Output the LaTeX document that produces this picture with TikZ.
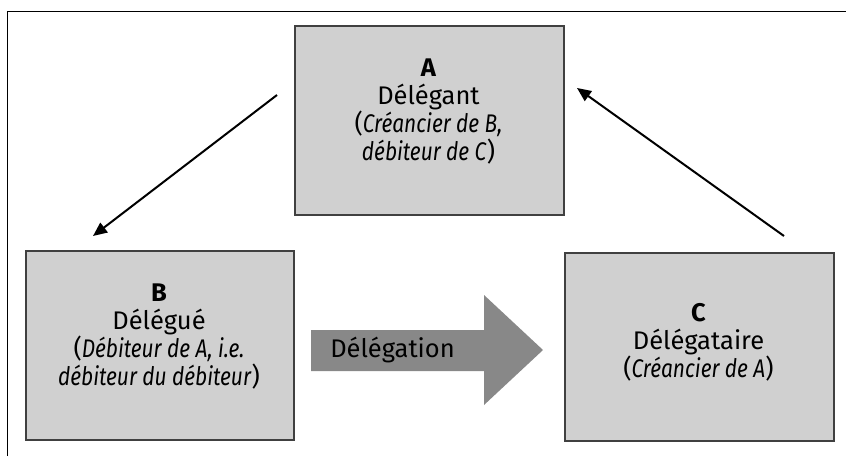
\documentclass[tikz,border=0pt]{standalone}
\usepackage{fontspec}
\setmainfont{Fira Sans}[ItalicFeatures={FakeStretch=0.82}]
\usetikzlibrary{arrows.meta}
\definecolor{boxfill}{HTML}{D0D0D0}
\definecolor{boxline}{HTML}{404040}
\definecolor{bigarrow}{HTML}{888888}
\tikzset{
  partybox/.style={draw=boxline, line width=1.5pt, fill=boxfill, inner sep=0pt, anchor=north west},
  partytext/.style={align=center, font=\fontsize{25.5}{28}\selectfont, inner sep=0pt},
  relarrow/.style={line width=2pt, -{Triangle[length=14pt,width=12pt]}},
}
\begin{document}
\begin{tikzpicture}[x=1pt,y=-1pt]
\useasboundingbox (0,0) rectangle (846,456);
% frame
\draw[line width=1.5pt] (7.5,456) -- (7.5,11.5) -- (846,11.5);
% boxes
\node[partybox, minimum width=269pt, minimum height=189pt] (A) at (294,25) {};
\node[partybox, minimum width=268pt, minimum height=189pt] (B) at (25,250) {};
\node[partybox, minimum width=269pt, minimum height=188pt] (C) at (564,252) {};
\node[partytext] (At) at (428.5,112) {\textbf{A}\\Délégant\\(\textit{Créancier de B,}\\\textit{débiteur de C})};
\node[partytext] (Bt) at (159,337) {\textbf{B}\\Délégué\\(\textit{Débiteur de A, i.e.}\\\textit{débiteur du débiteur})};
\node[partytext] (Ct) at (698.5,342) {\textbf{C}\\Délégataire\\(\textit{Créancier de A})};
% relation arrows
\coordinate (a1) at (277,95);
\coordinate (b1) at (93,236);
\coordinate (c1) at (784,236);
\coordinate (a2) at (577,88);
\draw[relarrow] (a1) -- (b1);
\draw[relarrow] (c1) -- (a2);
% big arrow
\fill[bigarrow] (311,330) -- (484,330) -- (484,295) -- (543,350) -- (484,405) -- (484,371) -- (311,371) -- cycle;
\node[font=\fontsize{25.5}{28}\selectfont, inner sep=0pt] (D) at (392.5,350) {Délégation};
\end{tikzpicture}
\end{document}
